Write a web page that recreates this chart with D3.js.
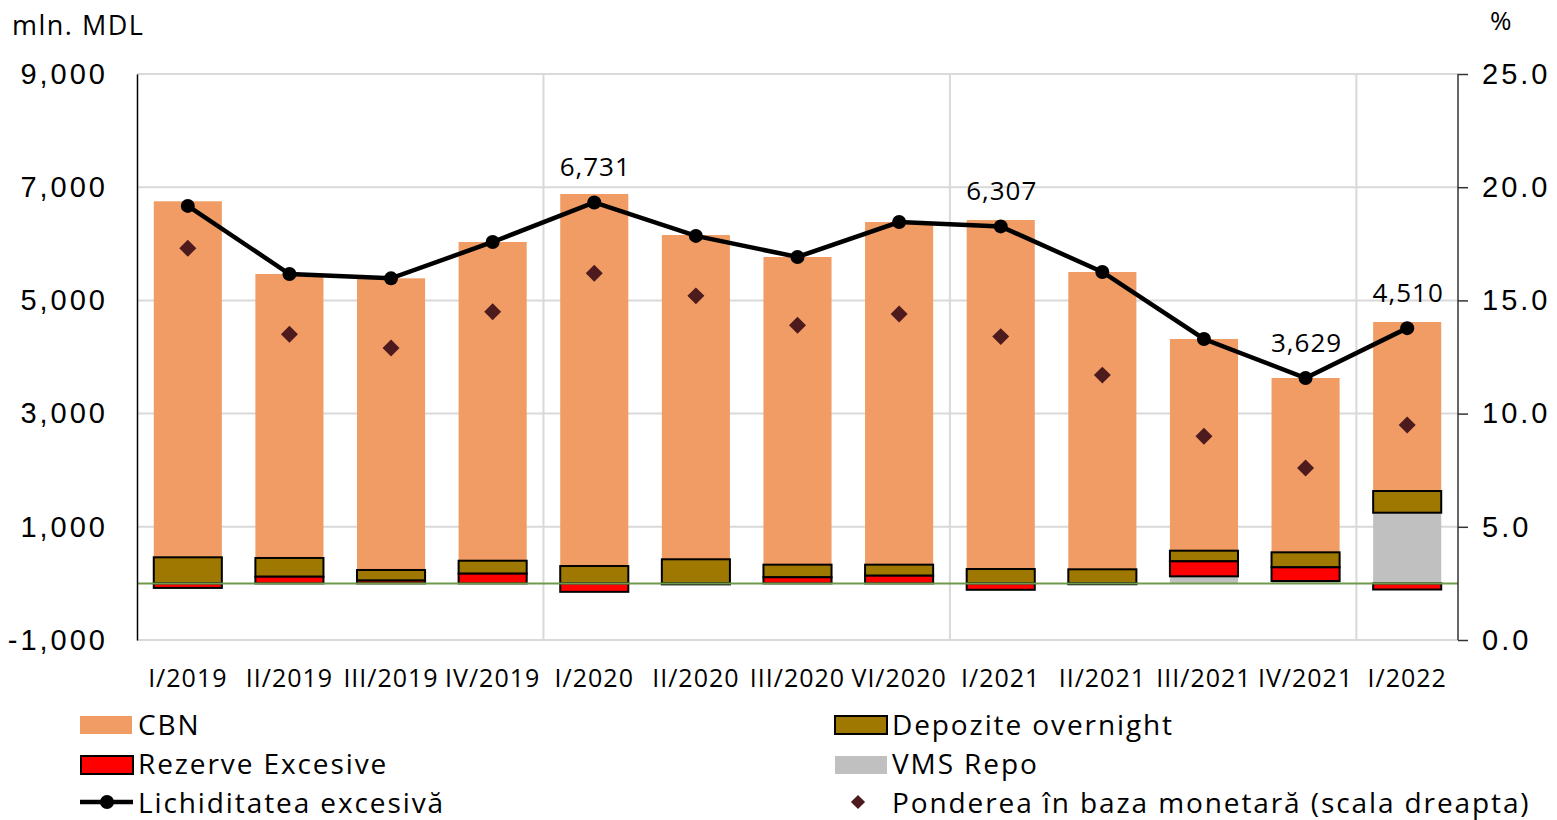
<!DOCTYPE html>
<html><head><meta charset="utf-8">
<script src="https://cdn.jsdelivr.net/npm/d3@7"></script>
<style>
body{margin:0;background:#fff;}
svg{display:block;font-family:"Open Sans",sans-serif;}
</style></head>
<body><svg id="c" width="1557" height="820"></svg>
<script>
const categories = ["I/2019","II/2019","III/2019","IV/2019","I/2020","II/2020","III/2020","VI/2020","I/2021","II/2021","III/2021","IV/2021","I/2022"];
const cbn        = [6290,5017,5153,5631,6573,5729,5436,6054,6166,5253,3740,3080,2986];
const depozite   = [461,331,187,229,307,426,223,195,254,249,188,265,383];
const rezerve    = [-80,118,50,172,-149,-17,108,136,-113,-15,265,242,-108];
const vmsRepo    = [0,0,0,0,0,0,0,0,0,0,125,42,1249];
const lichiditate= [6670,5466,5390,6032,6731,6140,5767,6385,6307,5502,4318,3629,4510];
const ponderea   = [17.3,13.5,12.9,14.5,16.2,15.2,13.9,14.4,13.4,11.7,9.0,7.6,9.5];
const labeledCats= ["I/2020","I/2021","IV/2021","I/2022"];
const leftTicks  = [-1000,1000,3000,5000,7000,9000];
const rightTicks = [0,5,10,15,20,25];
const yearBreaks = ["I/2020","I/2021","I/2022"];

const svg = d3.select("#c");
const L=137, R=1458, T=74, B=640;
const x = d3.scaleBand().domain(categories).range([L,R]).paddingInner(0.33).paddingOuter(0.165);
const y = d3.scaleLinear().domain([-1000,9000]).range([B,T]);
const yR = d3.scaleLinear().domain([0,25]).range([B,T]);
const fmt = d3.format(",");
const fmtL = v => fmt(v).replace("−","-");

// gridlines
const g = svg.append("g");
g.selectAll(".hg").data(leftTicks).join("line")
  .attr("x1",L).attr("x2",R).attr("y1",d=>y(d)).attr("y2",d=>y(d))
  .attr("stroke","#d9d9d9").attr("stroke-width",2);
const step = x.step();
g.selectAll(".vg").data(yearBreaks).join("line")
  .attr("x1",d=>x(d)-x.paddingInner()*step/2).attr("x2",d=>x(d)-x.paddingInner()*step/2)
  .attr("y1",T).attr("y2",B).attr("stroke","#d9d9d9").attr("stroke-width",2);

// stacked bars
const rows = categories.map((c,i)=>({cat:c,VMS:vmsRepo[i],REZ:rezerve[i],DEP:depozite[i],CBN:cbn[i]}));
const keys=["VMS","REZ","DEP","CBN"];
const fills={VMS:"#c0c0c0",REZ:"#ff0000",DEP:"#9e7800",CBN:"#f09c64"};
const strokes={VMS:"none",REZ:"#000",DEP:"#000",CBN:"none"};
const series = d3.stack().keys(keys).offset(d3.stackOffsetDiverging)(rows);
const order=["VMS","CBN","DEP","REZ"];
order.forEach(k=>{
  const s = series.find(s=>s.key===k);
  svg.append("g").selectAll("rect").data(s.filter(d=>d[1]!==d[0])).join("rect")
    .attr("x",d=>x(d.data.cat)).attr("width",x.bandwidth())
    .attr("y",d=>y(Math.max(d[0],d[1]))).attr("height",d=>Math.abs(y(d[0])-y(d[1])))
    .attr("fill",fills[k]).attr("stroke",strokes[k]).attr("stroke-width",2);
});

// zero line
svg.append("line").attr("x1",L).attr("x2",R).attr("y1",y(0)).attr("y2",y(0))
  .attr("stroke","#6f9a4c").attr("stroke-width",2);

// axes
const axL = svg.append("g").attr("transform",`translate(${L},0)`)
  .call(d3.axisLeft(y).tickValues(leftTicks).tickSize(0).tickPadding(29).tickFormat(fmtL));
axL.select(".domain").attr("stroke","#000").attr("stroke-width",1.5);
axL.selectAll("text").attr("font-size",29).attr("letter-spacing",3).attr("fill","#000");
const axR = svg.append("g").attr("transform",`translate(${R},0)`)
  .call(d3.axisRight(yR).tickValues(rightTicks).tickSize(10).tickPadding(14).tickFormat(d3.format(".1f")));
axR.select(".domain").attr("stroke","#333").attr("stroke-width",1.5).attr("d",`M0,${T}V${B}`);
axR.selectAll("line").attr("stroke","#333").attr("stroke-width",1.5);
axR.selectAll("text").attr("font-size",29).attr("letter-spacing",3).attr("fill","#000");

svg.append("g").selectAll("text").data(categories).join("text")
  .attr("x",d=>x(d)+x.bandwidth()/2).attr("y",687).attr("text-anchor","middle")
  .attr("font-size",25).attr("letter-spacing",1).text(d=>d);

svg.append("text").attr("x",12).attr("y",35).attr("font-size",27).attr("letter-spacing",1.5).text("mln. MDL");
svg.append("text").attr("x",1490).attr("y",30).attr("font-size",26).text("%");

// line
const cx = c=>x(c)+x.bandwidth()/2;
svg.append("path").datum(lichiditate)
  .attr("d",d3.line().x((d,i)=>cx(categories[i])).y(d=>y(d)))
  .attr("fill","none").attr("stroke","#000").attr("stroke-width",4.5);
svg.append("g").selectAll("circle").data(lichiditate).join("circle")
  .attr("cx",(d,i)=>cx(categories[i])).attr("cy",d=>y(d)).attr("r",7).attr("fill","#000");

// diamonds
const dia = "M-6,-6H6V6H-6Z";
svg.append("g").selectAll("path").data(ponderea).join("path")
  .attr("transform",(d,i)=>`translate(${cx(categories[i])},${yR(d)}) rotate(45)`)
  .attr("d",dia).attr("fill","#4d1a1e");

// labels
svg.append("g").selectAll("text").data(labeledCats).join("text")
  .attr("x",d=>cx(d)+1).attr("y",d=>y(lichiditate[categories.indexOf(d)])-26)
  .attr("text-anchor","middle").attr("font-size",26).attr("letter-spacing",1)
  .text(d=>fmt(lichiditate[categories.indexOf(d)]));

// legend
const lg = svg.append("g").attr("font-size",28).attr("letter-spacing",1.9);
function sw(xp,yp,fill,stroke){lg.append("rect").attr("x",xp).attr("y",yp).attr("width",52).attr("height",18).attr("fill",fill).attr("stroke",stroke).attr("stroke-width",2);}
sw(80,716,fills.CBN,"none"); lg.append("text").attr("x",138).attr("y",735).text("CBN");
sw(81,756,fills.REZ,"#000"); lg.append("text").attr("x",138).attr("y",774).text("Rezerve Excesive");
lg.append("line").attr("x1",80).attr("x2",133).attr("y1",802).attr("y2",802).attr("stroke","#000").attr("stroke-width",4.5);
lg.append("circle").attr("cx",107).attr("cy",802).attr("r",7);
lg.append("text").attr("x",138).attr("y",813).text("Lichiditatea excesivă");
sw(835,716,fills.DEP,"#000"); lg.append("text").attr("x",892).attr("y",735).text("Depozite overnight");
sw(835,756,fills.VMS,"none"); lg.append("text").attr("x",892).attr("y",774).text("VMS Repo");
lg.append("path").attr("transform","translate(858,802) rotate(45)").attr("d","M-5,-5H5V5H-5Z").attr("fill","#4d1a1e");
lg.append("text").attr("x",892).attr("y",813).text("Ponderea în baza monetară (scala dreapta)");
</script></body></html>
